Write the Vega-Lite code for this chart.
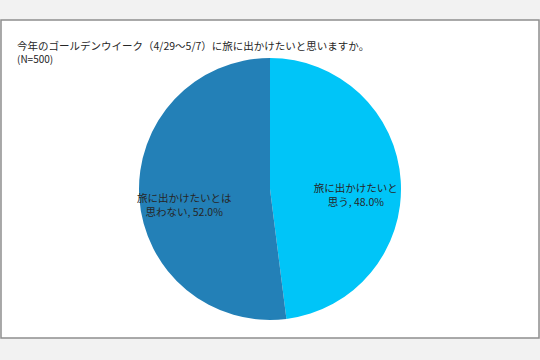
{
  "$schema": "https://vega.github.io/schema/vega-lite/v6.json",
  "width": 540,
  "height": 360,
  "autosize": {"type": "fit", "contains": "padding"},
  "padding": {"top": 20, "left": 1, "right": 1, "bottom": 22},
  "background": "#f2f2f2",
  "view": {"fill": "white", "stroke": "#8f8f8f", "strokeWidth": 1.5},
  "config": {
    "view": {"fill": "white", "stroke": "#8f8f8f", "strokeWidth": 1.5},
    "font": "Noto Sans CJK JP"
  },
  "title": {
    "text": "今年のゴールデンウイーク（4/29～5/7）に旅に出かけたいと思いますか。",
    "subtitle": "(N=500)",
    "anchor": "start",
    "orient": "top",
    "offset": -45,
    "dx": 16,
    "font": "Noto Sans CJK JP",
    "subtitleFont": "Noto Sans CJK JP",
    "fontSize": 10.5,
    "subtitleFontSize": 10,
    "fontWeight": "normal",
    "color": "#262626",
    "subtitleColor": "#262626",
    "subtitlePadding": 3
  },
  "data": {
    "values": [
      {"cat": "旅に出かけたいと思う", "value": 48.0, "rank": 1, "label": "旅に出かけたいと\n思う, 48.0%"},
      {"cat": "旅に出かけたいとは思わない", "value": 52.0, "rank": 2, "label": "旅に出かけたいとは\n思わない, 52.0%"}
    ]
  },
  "encoding": {
    "theta": {"field": "value", "type": "quantitative", "stack": true},
    "order": {"field": "rank", "type": "ordinal"}
  },
  "layer": [
    {
      "mark": {"type": "arc", "outerRadius": 131, "yOffset": 10},
      "encoding": {
        "color": {
          "field": "cat",
          "type": "nominal",
          "scale": {"domain": ["旅に出かけたいと思う", "旅に出かけたいとは思わない"], "range": ["#00c5f8", "#2380b7"]},
          "legend": null
        }
      }
    },
    {
      "mark": {"type": "text", "radius": 86, "yOffset": 15, "fontSize": 10.5, "lineBreak": "\n", "lineHeight": 14, "color": "#262626", "font": "Noto Sans CJK JP"},
      "encoding": {
        "text": {"field": "label", "type": "nominal"}
      }
    }
  ]
}
